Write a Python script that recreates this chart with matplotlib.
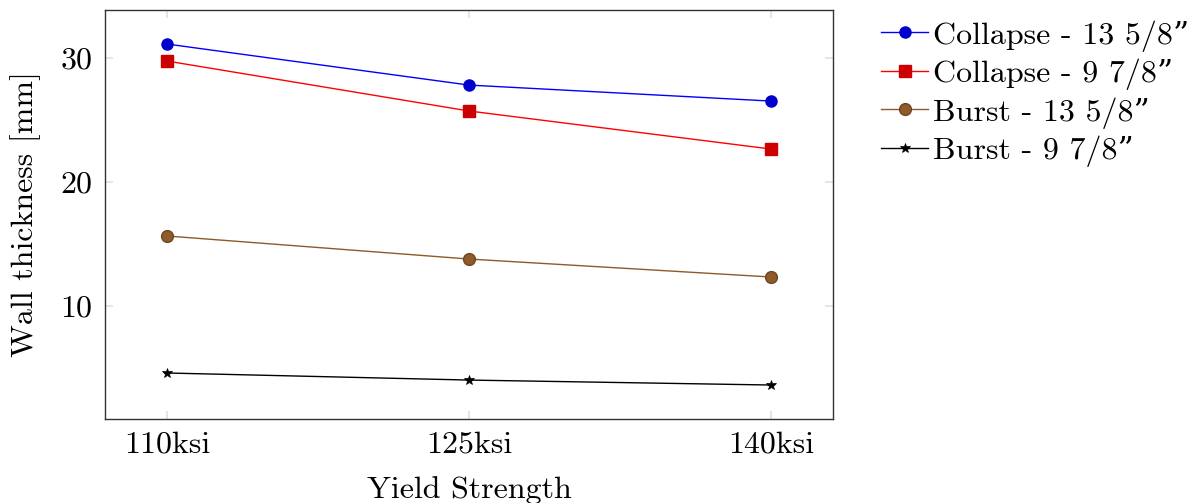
import matplotlib
matplotlib.use("Agg")
import matplotlib.pyplot as plt

categories = ["110ksi", "125ksi", "140ksi"]
collapse_13 = [31.13, 27.82, 26.53]
collapse_9 = [29.76, 25.73, 22.66]
burst_13 = [15.65, 13.79, 12.34]
burst_9 = [4.60, 4.03, 3.63]
labels = ["Collapse - 13 5/8\u201d", "Collapse - 9 7/8\u201d",
          "Burst - 13 5/8\u201d", "Burst - 9 7/8\u201d"]
yticks = [10, 20, 30]

plt.rcParams['font.family'] = ['cmr10', 'DejaVu Serif']
plt.rcParams['axes.unicode_minus'] = False
plt.rcParams['mathtext.fontset'] = 'cm'

FS = 23
fig = plt.figure(figsize=(11.88, 5.03), dpi=100)
ax = fig.add_axes([0.0884, 0.167, 0.6128, 0.813])

x = list(range(len(categories)))
series = [
    (collapse_13, dict(color='#0000ff', marker='o', markerfacecolor='#0000cc', markeredgecolor='#0000cc', markersize=8)),
    (collapse_9, dict(color='#ff0000', marker='s', markerfacecolor='#cc0000', markeredgecolor='#cc0000', markersize=8)),
    (burst_13, dict(color='#8c5a2b', marker='o', markerfacecolor='#8f5b2a', markeredgecolor='#6e4620', markersize=8.5)),
    (burst_9, dict(color='black', marker='*', markerfacecolor='black', markeredgecolor='black', markersize=7, markeredgewidth=0.5)),
]
handles = []
for (vals, st), lab in zip(series, labels):
    h, = ax.plot(x, vals, linewidth=1.0, label=lab, **st)
    handles.append(h)

ax.set_xlim(-0.205, 2.205)
ax.set_ylim(0.89, 33.87)
ax.set_xticks(x)
ax.set_xticklabels(categories)
ax.set_yticks(yticks)
ax.tick_params(axis='both', direction='in', length=6, width=1.2, color='#e0e0e0',
               labelsize=FS, top=True, right=True, pad=9)
for s in ax.spines.values():
    s.set_linewidth(1.0)
    s.set_color('#333333')

ax.set_xlabel("Yield Strength", fontsize=FS, labelpad=12)
ax.set_ylabel("Wall thickness [mm]", fontsize=FS, labelpad=14)

fig.legend(handles=handles, labels=labels, loc='upper left', bbox_to_anchor=(0.742, 0.96),
           frameon=False, fontsize=23, handlelength=1.45, handletextpad=0.15,
           labelspacing=0.22, borderaxespad=0, borderpad=0)

fig.savefig("out.png", dpi=100)
